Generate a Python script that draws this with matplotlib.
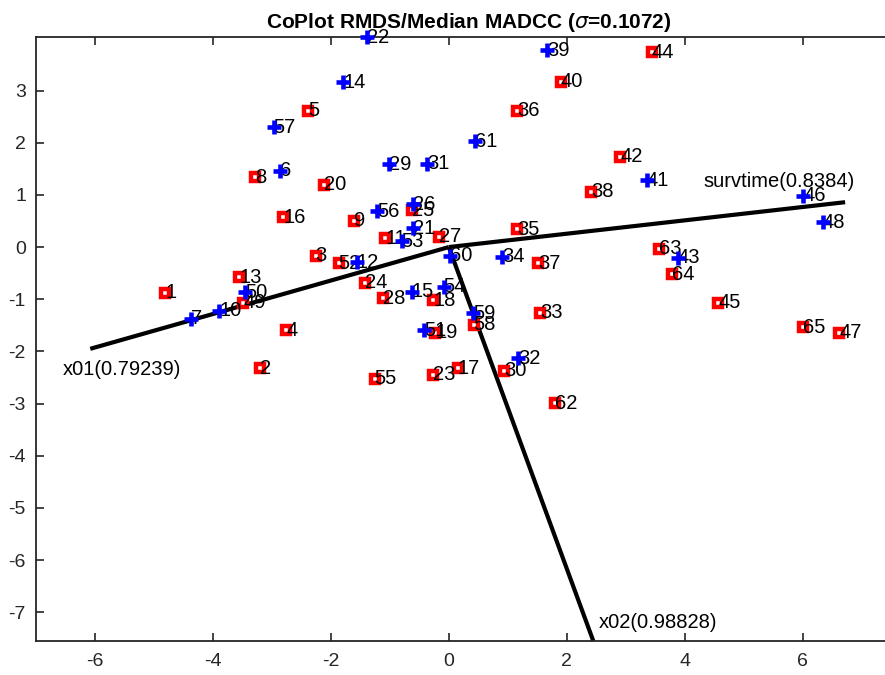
import numpy as np
import matplotlib
matplotlib.use("Agg")
import matplotlib.pyplot as plt

# CoPlot map: observations (two groups) plus variable arrows
red_ids = [1, 2, 3, 4, 5, 8, 9, 11, 13, 16, 17, 18, 19, 20, 23, 24, 25, 27, 28,
           30, 33, 35, 36, 37, 38, 40, 42, 44, 45, 47, 49, 52, 55, 58, 62, 63, 64, 65]
red_x = [-4.81, -3.20, -2.26, -2.76, -2.38, -3.29, -1.60, -1.08, -3.55, -2.81, 0.15, -0.26,
         -0.23, -2.12, -0.26, -1.42, -0.63, -0.16, -1.12, 0.94, 1.55, 1.16, 1.16, 1.52,
         2.41, 1.90, 2.91, 3.44, 4.57, 6.62, -3.49, -1.87, -1.26, 0.42, 1.80, 3.57, 3.78, 6.01]
red_y = [-0.88, -2.32, -0.17, -1.59, 2.61, 1.34, 0.50, 0.17, -0.58, 0.57, -2.32, -1.02,
         -1.64, 1.19, -2.45, -0.68, 0.71, 0.20, -0.98, -2.37, -1.26, 0.34, 2.61, -0.31,
         1.06, 3.17, 1.73, 3.73, -1.07, -1.64, -1.07, -0.31, -2.52, -1.49, -2.99, -0.03,
         -0.52, -1.54]

blue_ids = [6, 7, 10, 12, 14, 15, 21, 22, 26, 29, 31, 32, 34, 39, 41, 43, 46, 48,
            50, 51, 53, 54, 56, 57, 59, 60, 61]
blue_x = [-2.86, -4.38, -3.89, -1.56, -1.79, -0.63, -0.60, -1.39, -0.60, -1.01, -0.37,
          1.18, 0.90, 1.67, 3.36, 3.88, 6.01, 6.34, -3.45, -0.42, -0.80, -0.09, -1.22,
          -2.97, 0.41, 0.02, 0.45]
blue_y = [1.46, -1.37, -1.22, -0.29, 3.16, -0.86, 0.36, 4.02, 0.82, 1.59, 1.60, -2.13,
          -0.19, 3.77, 1.28, -0.20, 0.98, 0.48, -0.87, -1.59, 0.11, -0.76, 0.69, 2.30,
          -1.27, -0.17, 2.03]

var_names = ["x01", "x02", "survtime"]
var_corr = ["0.79239", "0.98828", "0.8384"]
var_x = [-6.08, 2.45, 6.72]
var_y = [-1.95, -7.55, 0.86]
sigma = "0.1072"

plt.rcParams["font.family"] = ["Liberation Sans", "DejaVu Sans"]
plt.rcParams["axes.unicode_minus"] = False

fig = plt.figure(figsize=(8.85, 6.75), dpi=100)
ax = fig.add_axes([0.0403, 0.0504, 0.9786, 0.8943])
ax.set_xlim(-7.006, 7.68)
ax.set_ylim(-7.55, 4.02)

# variable arrows from the origin
label_offsets = {"x01": (-28, -21), "x02": (5, 18), "survtime": (-142, 21)}
for name, corr, vx, vy in zip(var_names, var_corr, var_x, var_y):
    ax.plot([0, vx], [0, vy], color="k", lw=3, solid_capstyle="butt", zorder=2, clip_on=False)
    dx, dy = label_offsets[name]
    ax.annotate(f"{name}({corr})", (vx, vy), xytext=(dx, dy), textcoords="offset pixels",
                ha="left", va="center", fontsize=14.5, color="k", zorder=4)

# red squares sit under the number labels, blue crosses on top
ax.plot(red_x, red_y, ls="none", marker="s", ms=5.6, mew=3.2, mec="#ff0000",
        mfc="white", zorder=3, clip_on=False)
for i, x, y in zip(red_ids, red_x, red_y):
    ax.text(x, y, str(i), fontsize=14.5, ha="left", va="center", zorder=4)
for i, x, y in zip(blue_ids, blue_x, blue_y):
    ax.text(x, y, str(i), fontsize=14.5, ha="left", va="center", zorder=4)
ax.plot(blue_x, blue_y, ls="none", marker="+", ms=10, mew=3.3, mec="#0000ff",
        zorder=6, clip_on=False)

ax.set_title(rf"CoPlot RMDS/Median MADCC ($\sigma$={sigma})", fontsize=15,
             fontweight="bold", pad=7)

ax.set_xticks([-6, -4, -2, 0, 2, 4, 6])
ax.set_yticks([-7, -6, -5, -4, -3, -2, -1, 0, 1, 2, 3])
ax.tick_params(direction="in", length=6, width=1.2, colors="#262626", labelsize=14,
               top=True, right=False, labelcolor="#262626")
ax.tick_params(axis="x", pad=9)
ax.tick_params(axis="y", pad=7)
for side in ["left", "bottom", "top"]:
    ax.spines[side].set_linewidth(1.3)
    ax.spines[side].set_color("#262626")
ax.spines["right"].set_visible(False)

fig.savefig("out.png", dpi=100)
